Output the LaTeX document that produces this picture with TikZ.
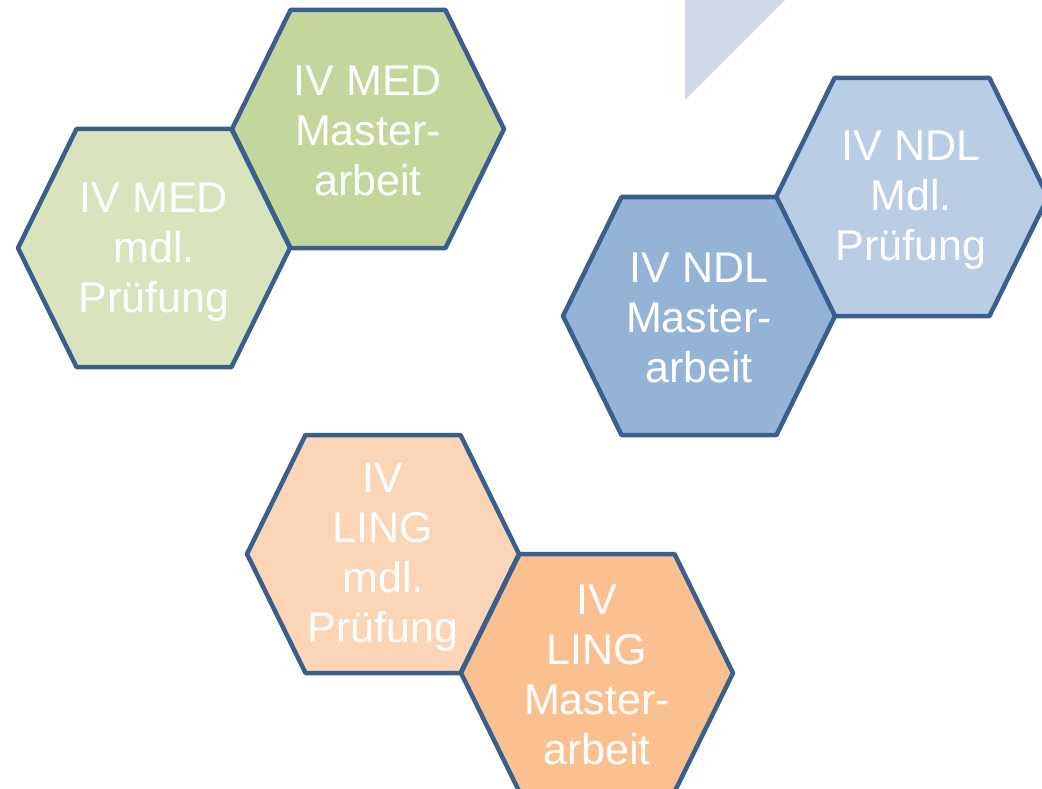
\documentclass[tikz,border=0pt]{standalone}
\usepackage{fontspec}
\setmainfont{Liberation Sans}
\definecolor{edgeblue}{HTML}{3A5F8C}
\definecolor{greenA}{HTML}{C3D69B}
\definecolor{greenB}{HTML}{D7E4BD}
\definecolor{blueA}{HTML}{95B3D7}
\definecolor{blueB}{HTML}{B9CDE5}
\definecolor{orangeA}{HTML}{FAC090}
\definecolor{orangeB}{HTML}{FBD5B5}
\definecolor{trifill}{HTML}{D1D9E8}
\tikzset{
  hexs/.style={draw=edgeblue, line width=4.5pt, line join=round},
  lbl/.style={text=white, align=center, font=\fontsize{43}{50}\selectfont, inner sep=0pt}
}
\newcommand\hexat[2]{% #1 = centre coordinate name, #2 = fill colour
  \filldraw[hexs, fill=#2] (#1) ++(-136,0) -- ++(58.5,-119) -- ++(155,0) -- ++(58.5,119)
    -- ++(-58.5,119) -- ++(-155,0) -- cycle;}
\begin{document}
\begin{tikzpicture}[x=1pt,y=-1pt]
\useasboundingbox (0,0) rectangle (1042,789);
\fill[trifill] (685,0) -- (785,0) -- (685,100) -- cycle;
\coordinate (medma) at (368,129);
\coordinate (medmp) at (154,248);
\coordinate (ndlmp) at (912,197);
\coordinate (ndlma) at (699,316);
\coordinate (lingmp) at (383,554);
\coordinate (lingma) at (597,673);
% MED
\hexat{medma}{greenA}
\hexat{medmp}{greenB}
\node[lbl] (medmat) at (368,131) {IV MED\\Master-\\arbeit};
\node[lbl] (medmpt) at (154,252) {IV MED\\mdl.\\Prüfung};
% NDL
\hexat{ndlmp}{blueB}
\hexat{ndlma}{blueA}
\node[lbl] (ndlmpt) at (911,200) {IV NDL\\Mdl.\\Prüfung};
\node[lbl] (ndlmat) at (699,318) {IV NDL\\Master-\\arbeit};
% LING
\hexat{lingmp}{orangeB}
\hexat{lingma}{orangeA}
\node[lbl] (lingmpt) at (383,557) {IV\\LING\\mdl.\\Prüfung};
\node[lbl] (lingmat) at (597,675) {IV\\LING\\Master-\\arbeit};
\end{tikzpicture}
\end{document}
